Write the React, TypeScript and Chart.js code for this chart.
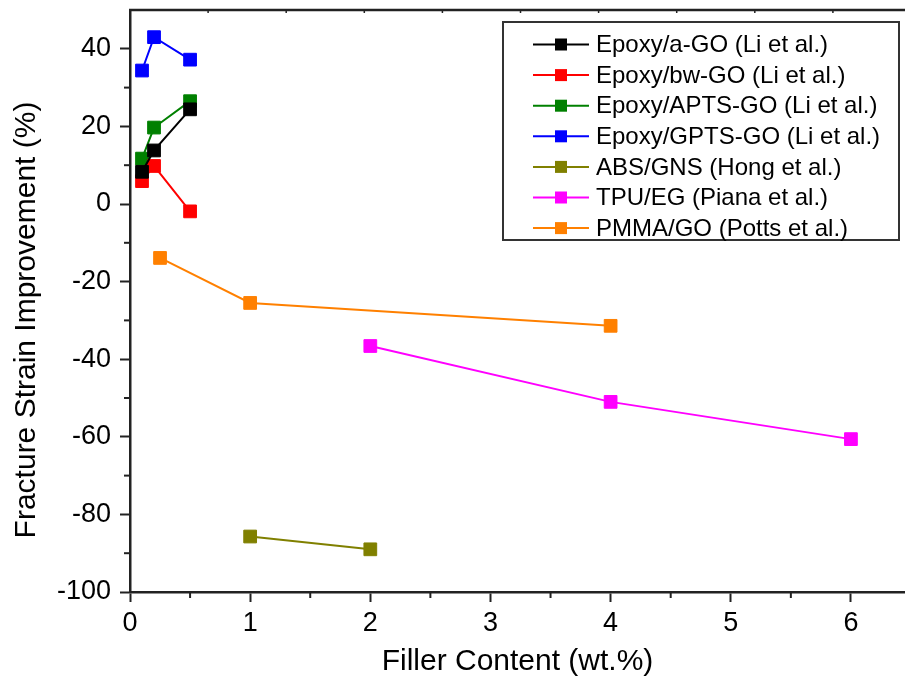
import React, { useEffect, useRef } from 'react';
import { Chart, registerables } from 'chart.js';

Chart.register(...registerables);

// ---------- data ----------
const seriesLabels = [
  'Epoxy/a-GO (Li et al.)',
  'Epoxy/bw-GO (Li et al.)',
  'Epoxy/APTS-GO (Li et al.)',
  'Epoxy/GPTS-GO (Li et al.)',
  'ABS/GNS (Hong et al.)',
  'TPU/EG (Piana et al.)',
  'PMMA/GO (Potts et al.)',
];
const seriesColors = ['#000000', '#FF0000', '#008000', '#0000FF', '#808000', '#FF00FF', '#FF8000'];

const liX = [0.1, 0.2, 0.5];
const epoxyAGO = [8.3, 13.8, 24.4];
const epoxyBwGO = [5.9, 9.8, -1.9];
const epoxyAPTSGO = [11.7, 19.7, 26.5];
const epoxyGPTSGO = [34.4, 43.0, 37.2];

const absX = [1, 2];
const absGNS = [-85.7, -89.0];

const tpuX = [2, 4, 6];
const tpuEG = [-36.6, -51.0, -60.6];

const pmmaX = [0.25, 1, 4];
const pmmaGO = [-13.9, -25.5, -31.4];

const xTicks = [0, 1, 2, 3, 4, 5, 6];
const xMinorTicks = [0.5, 1.5, 2.5, 3.5, 4.5, 5.5];
const yTicks = [-100, -80, -60, -40, -20, 0, 20, 40];
const yMinorTicks = [-90, -70, -50, -30, -10, 10, 30];
const topMarkStep = 0.65;

const xTitle = 'Filler Content (wt.%)';
const yTitle = 'Fracture Strain Improvement (%)';

const FONT = '"Liberation Sans", Arial, sans-serif';

function pts(xs: number[], ys: number[]) {
  return xs.map((x, i) => ({ x, y: ys[i] }));
}

const axisDecor = {
  id: 'axisDecor',
  afterDraw(chart: any) {
    const { ctx, chartArea, scales } = chart;
    const xs = scales.x;
    const ys = scales.y;
    ctx.save();
    ctx.strokeStyle = '#222';
    ctx.lineWidth = 2;
    // minor ticks
    yMinorTicks.forEach((v) => {
      const py = ys.getPixelForValue(v);
      ctx.beginPath();
      ctx.moveTo(chartArea.left - 6, py);
      ctx.lineTo(chartArea.left, py);
      ctx.stroke();
    });
    xMinorTicks.forEach((v) => {
      const px = xs.getPixelForValue(v);
      ctx.beginPath();
      ctx.moveTo(px, chartArea.bottom);
      ctx.lineTo(px, chartArea.bottom + 6);
      ctx.stroke();
    });
    // top border
    ctx.lineWidth = 2.5;
    ctx.strokeStyle = '#222';
    ctx.beginPath();
    ctx.moveTo(chartArea.left - 1, chartArea.top);
    ctx.lineTo(chartArea.right, chartArea.top);
    ctx.stroke();
    ctx.lineWidth = 1.5;
    for (let v = topMarkStep; v < xs.max; v += topMarkStep) {
      const px = xs.getPixelForValue(v);
      ctx.beginPath();
      ctx.moveTo(px, chartArea.top);
      ctx.lineTo(px, chartArea.top + 3);
      ctx.stroke();
    }
    // y title
    ctx.fillStyle = '#000';
    ctx.font = `30px ${FONT}`;
    ctx.textAlign = 'center';
    ctx.textBaseline = 'middle';
    ctx.translate(27, 320);
    ctx.rotate(-Math.PI / 2);
    ctx.fillText(yTitle, 0, 0);
    ctx.restore();

    // legend
    ctx.save();
    const bx = 503, by = 22, bw = 396, bh = 218;
    ctx.fillStyle = '#fff';
    ctx.fillRect(bx, by, bw, bh);
    ctx.strokeStyle = '#333';
    ctx.lineWidth = 2;
    ctx.strokeRect(bx, by, bw, bh);
    ctx.font = `24px ${FONT}`;
    ctx.textBaseline = 'middle';
    ctx.textAlign = 'left';
    chart.data.datasets.forEach((ds: any, i: number) => {
      const cy = 44.5 + i * 30.6;
      ctx.strokeStyle = ds.borderColor;
      ctx.lineWidth = 2;
      ctx.beginPath();
      ctx.moveTo(533, cy);
      ctx.lineTo(589, cy);
      ctx.stroke();
      ctx.fillStyle = ds.borderColor;
      ctx.fillRect(555, cy - 6, 12, 12);
      ctx.fillStyle = '#000';
      ctx.fillText(ds.label, 596, cy + 1);
    });
    ctx.restore();
  },
};

export default function App() {
  const ref = useRef<HTMLCanvasElement | null>(null);
  useEffect(() => {
    document.body.style.margin = '0';
    const canvas = ref.current!;
    const ys = [epoxyAGO, epoxyBwGO, epoxyAPTSGO, epoxyGPTSGO, absGNS, tpuEG, pmmaGO];
    const xsArr = [liX, liX, liX, liX, absX, tpuX, pmmaX];
    const chart = new Chart(canvas, {
      type: 'line',
      data: {
        datasets: seriesLabels.map((label, i) => ({
          label,
          data: pts(xsArr[i], ys[i]),
          borderColor: seriesColors[i],
          backgroundColor: seriesColors[i],
          pointBackgroundColor: seriesColors[i],
          pointBorderColor: seriesColors[i],
          pointBorderWidth: 1,
          pointStyle: 'rect',
          pointRadius: 9,
          borderWidth: 2,
          tension: 0,
          fill: false,
        })),
      },
      options: {
        responsive: false,
        animation: false,
        devicePixelRatio: 1,
        layout: { autoPadding: false, padding: { top: 10, right: 0, left: 0, bottom: 0 } },
        plugins: {
          legend: { display: false },
          tooltip: { enabled: false },
          title: { display: false },
        },
        scales: {
          x: {
            type: 'linear',
            min: 0,
            max: 6.45,
            afterBuildTicks: (s: any) => {
              s.ticks = xTicks.map((v) => ({ value: v }));
            },
            afterFit: (s: any) => {
              s.height = 94;
              s.paddingLeft = 0;
              s.paddingRight = 0;
            },
            border: { display: true, color: '#222', width: 2.5 },
            grid: { display: true, drawOnChartArea: false, drawTicks: true, tickLength: 10, tickWidth: 2, color: '#222' },
            ticks: { color: '#000', font: { family: FONT, size: 27 }, padding: 5, maxRotation: 0 },
            title: { display: true, text: xTitle, color: '#000', font: { family: FONT, size: 30 }, padding: { top: 0, bottom: 6 } },
          },
          y: {
            type: 'linear',
            min: -100,
            max: 50,
            afterBuildTicks: (s: any) => {
              s.ticks = yTicks.map((v) => ({ value: v }));
            },
            afterFit: (s: any) => {
              s.width = 130;
              s.paddingTop = 0;
              s.paddingBottom = 0;
            },
            border: { display: true, color: '#222', width: 2.5 },
            grid: { display: true, drawOnChartArea: false, drawTicks: true, tickLength: 10, tickWidth: 2, color: '#222' },
            ticks: { color: '#000', font: { family: FONT, size: 27 }, padding: 9 },
          },
        },
      },
      plugins: [axisDecor],
    });
    return () => chart.destroy();
  }, []);
  return <canvas ref={ref} width={905} height={686} style={{ width: 905, height: 686, display: 'block' }} />;
}
